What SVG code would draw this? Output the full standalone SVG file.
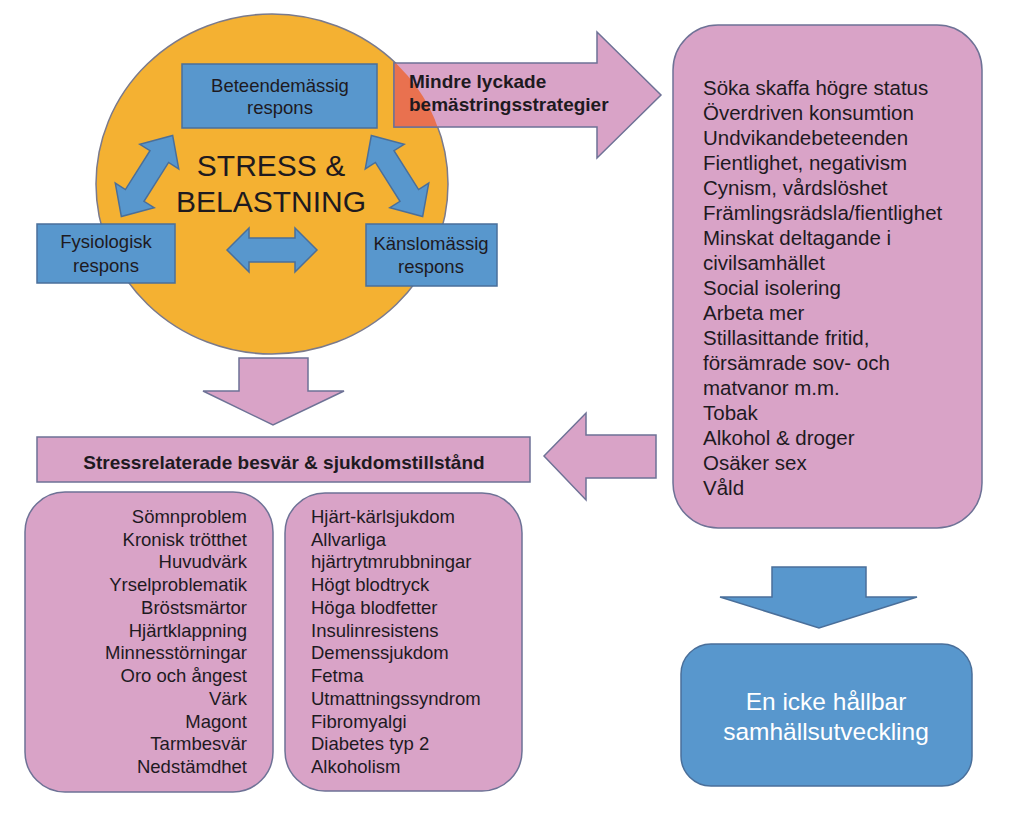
<svg xmlns="http://www.w3.org/2000/svg" width="1024" height="821" viewBox="0 0 1024 821">
<defs>
<style>
.t{font-family:"Liberation Sans",Arial,sans-serif;fill:#1e1a1f}
.b{font-weight:bold}
.blue{fill:#5897cd;stroke:#4a6f9a;stroke-width:1.5}
.pink{fill:#d9a3c7;stroke:#6e7296;stroke-width:1.5}
</style>
<clipPath id="circ"><ellipse cx="272" cy="184" rx="176" ry="170"/></clipPath>
<path id="dbl" d="M -48 0 L -23 -23 L -23 -11 L 23 -11 L 23 -23 L 48 0 L 23 23 L 23 11 L -23 11 L -23 23 Z"/>
</defs>
<rect width="1024" height="821" fill="#ffffff"/>

<g id="stress">
<ellipse cx="272" cy="184" rx="176" ry="170" fill="#f4b132" stroke="#7a7a8c" stroke-width="1.5"/>
<text class="t" x="271" y="176" font-size="30" text-anchor="middle" fill="#111">STRESS &amp;</text>
<text class="t" x="271" y="212" font-size="30" text-anchor="middle" fill="#111">BELASTNING</text>
</g>

<g id="connectors">
<use href="#dbl" class="blue" transform="translate(147,176) rotate(-57.7)"/>
<use href="#dbl" class="blue" transform="translate(397,176) rotate(57.7)"/>
<path class="blue" d="M 227 250 L 249 228 L 249 238 L 295 238 L 295 228 L 317 250 L 295 272 L 295 262 L 249 262 L 249 272 Z"/>
<path id="arrowMindre" class="pink" d="M 394 63 L 597 63 L 597 32 L 661 95 L 597 158 L 597 127 L 394 127 Z"/>
<path d="M 394 63 L 597 63 L 597 32 L 661 95 L 597 158 L 597 127 L 394 127 Z" fill="#e9714f" stroke="#6e7296" stroke-width="1.5" clip-path="url(#circ)"/>
<path class="pink" d="M 239 358 L 308 358 L 308 391 L 344 391 L 273 425 L 203 391 L 239 391 Z"/>
<path class="pink" d="M 656 435 L 586 435 L 586 413 L 544 456 L 586 500 L 586 478 L 656 478 Z"/>
<path class="blue" d="M 772 567 L 866 567 L 866 597 L 917 597 L 819 628 L 720 597 L 772 597 Z"/>
</g>

<g id="mindre-label">
<text class="t b" x="409" y="88" font-size="19">Mindre lyckade</text>
<text class="t b" x="409" y="111" font-size="19">bemästringsstrategier</text>
</g>

<g id="beteende">
<rect class="blue" x="182" y="64" width="195" height="64"/>
<text class="t" x="280" y="92" font-size="18.5" text-anchor="middle">Beteendemässig</text>
<text class="t" x="280" y="114" font-size="18.5" text-anchor="middle">respons</text>
</g>

<g id="fysiologisk">
<rect class="blue" x="37" y="224" width="138" height="59"/>
<text class="t" x="106" y="248" font-size="18.5" text-anchor="middle">Fysiologisk</text>
<text class="t" x="106" y="272" font-size="18.5" text-anchor="middle">respons</text>
</g>

<g id="kanslo">
<rect class="blue" x="366" y="224" width="131" height="62"/>
<text class="t" x="431" y="250" font-size="18.5" text-anchor="middle">Känslomässig</text>
<text class="t" x="431" y="273" font-size="18.5" text-anchor="middle">respons</text>
</g>

<g id="strategier">
<rect class="pink" x="673" y="25" width="309" height="503" rx="45"/>
<g class="t" font-size="20.5">
<text x="703" y="95">Söka skaffa högre status</text>
<text x="703" y="120">Överdriven konsumtion</text>
<text x="703" y="145">Undvikandebeteenden</text>
<text x="703" y="170">Fientlighet, negativism</text>
<text x="703" y="195">Cynism, vårdslöshet</text>
<text x="703" y="220">Främlingsrädsla/fientlighet</text>
<text x="703" y="245">Minskat deltagande i</text>
<text x="703" y="270">civilsamhället</text>
<text x="703" y="295">Social isolering</text>
<text x="703" y="320">Arbeta mer</text>
<text x="703" y="345">Stillasittande fritid,</text>
<text x="703" y="370">försämrade sov- och</text>
<text x="703" y="395">matvanor m.m.</text>
<text x="703" y="420">Tobak</text>
<text x="703" y="445">Alkohol &amp; droger</text>
<text x="703" y="470">Osäker sex</text>
<text x="703" y="495">Våld</text>
</g>
</g>

<g id="besvar">
<rect class="pink" x="37" y="437" width="493" height="45"/>
<text class="t b" x="284" y="469" font-size="19" text-anchor="middle">Stressrelaterade besvär &amp; sjukdomstillstånd</text>
</g>

<g id="symptom">
<rect class="pink" x="25" y="492" width="248" height="300" rx="40"/>
<g class="t" font-size="18.5" text-anchor="end">
<text x="247" y="523">Sömnproblem</text>
<text x="247" y="546">Kronisk trötthet</text>
<text x="247" y="568">Huvudvärk</text>
<text x="247" y="591">Yrselproblematik</text>
<text x="247" y="614">Bröstsmärtor</text>
<text x="247" y="637">Hjärtklappning</text>
<text x="247" y="659">Minnesstörningar</text>
<text x="247" y="682">Oro och ångest</text>
<text x="247" y="705">Värk</text>
<text x="247" y="728">Magont</text>
<text x="247" y="750">Tarmbesvär</text>
<text x="247" y="773">Nedstämdhet</text>
</g>
</g>

<g id="sjukdom">
<rect class="pink" x="285" y="493" width="237" height="298" rx="40"/>
<g class="t" font-size="18.5">
<text x="311" y="523">Hjärt-kärlsjukdom</text>
<text x="311" y="546">Allvarliga</text>
<text x="311" y="568">hjärtrytmrubbningar</text>
<text x="311" y="591">Högt blodtryck</text>
<text x="311" y="614">Höga blodfetter</text>
<text x="311" y="637">Insulinresistens</text>
<text x="311" y="659">Demenssjukdom</text>
<text x="311" y="682">Fetma</text>
<text x="311" y="705">Utmattningssyndrom</text>
<text x="311" y="728">Fibromyalgi</text>
<text x="311" y="750">Diabetes typ 2</text>
<text x="311" y="773">Alkoholism</text>
</g>
</g>

<g id="hallbar">
<rect class="blue" x="681" y="644" width="291" height="142" rx="30"/>
<text class="t" x="826" y="710" font-size="24.5" text-anchor="middle" style="fill:#ffffff">En icke hållbar</text>
<text class="t" x="826" y="740" font-size="24.5" text-anchor="middle" style="fill:#ffffff">samhällsutveckling</text>
</g>
</svg>
